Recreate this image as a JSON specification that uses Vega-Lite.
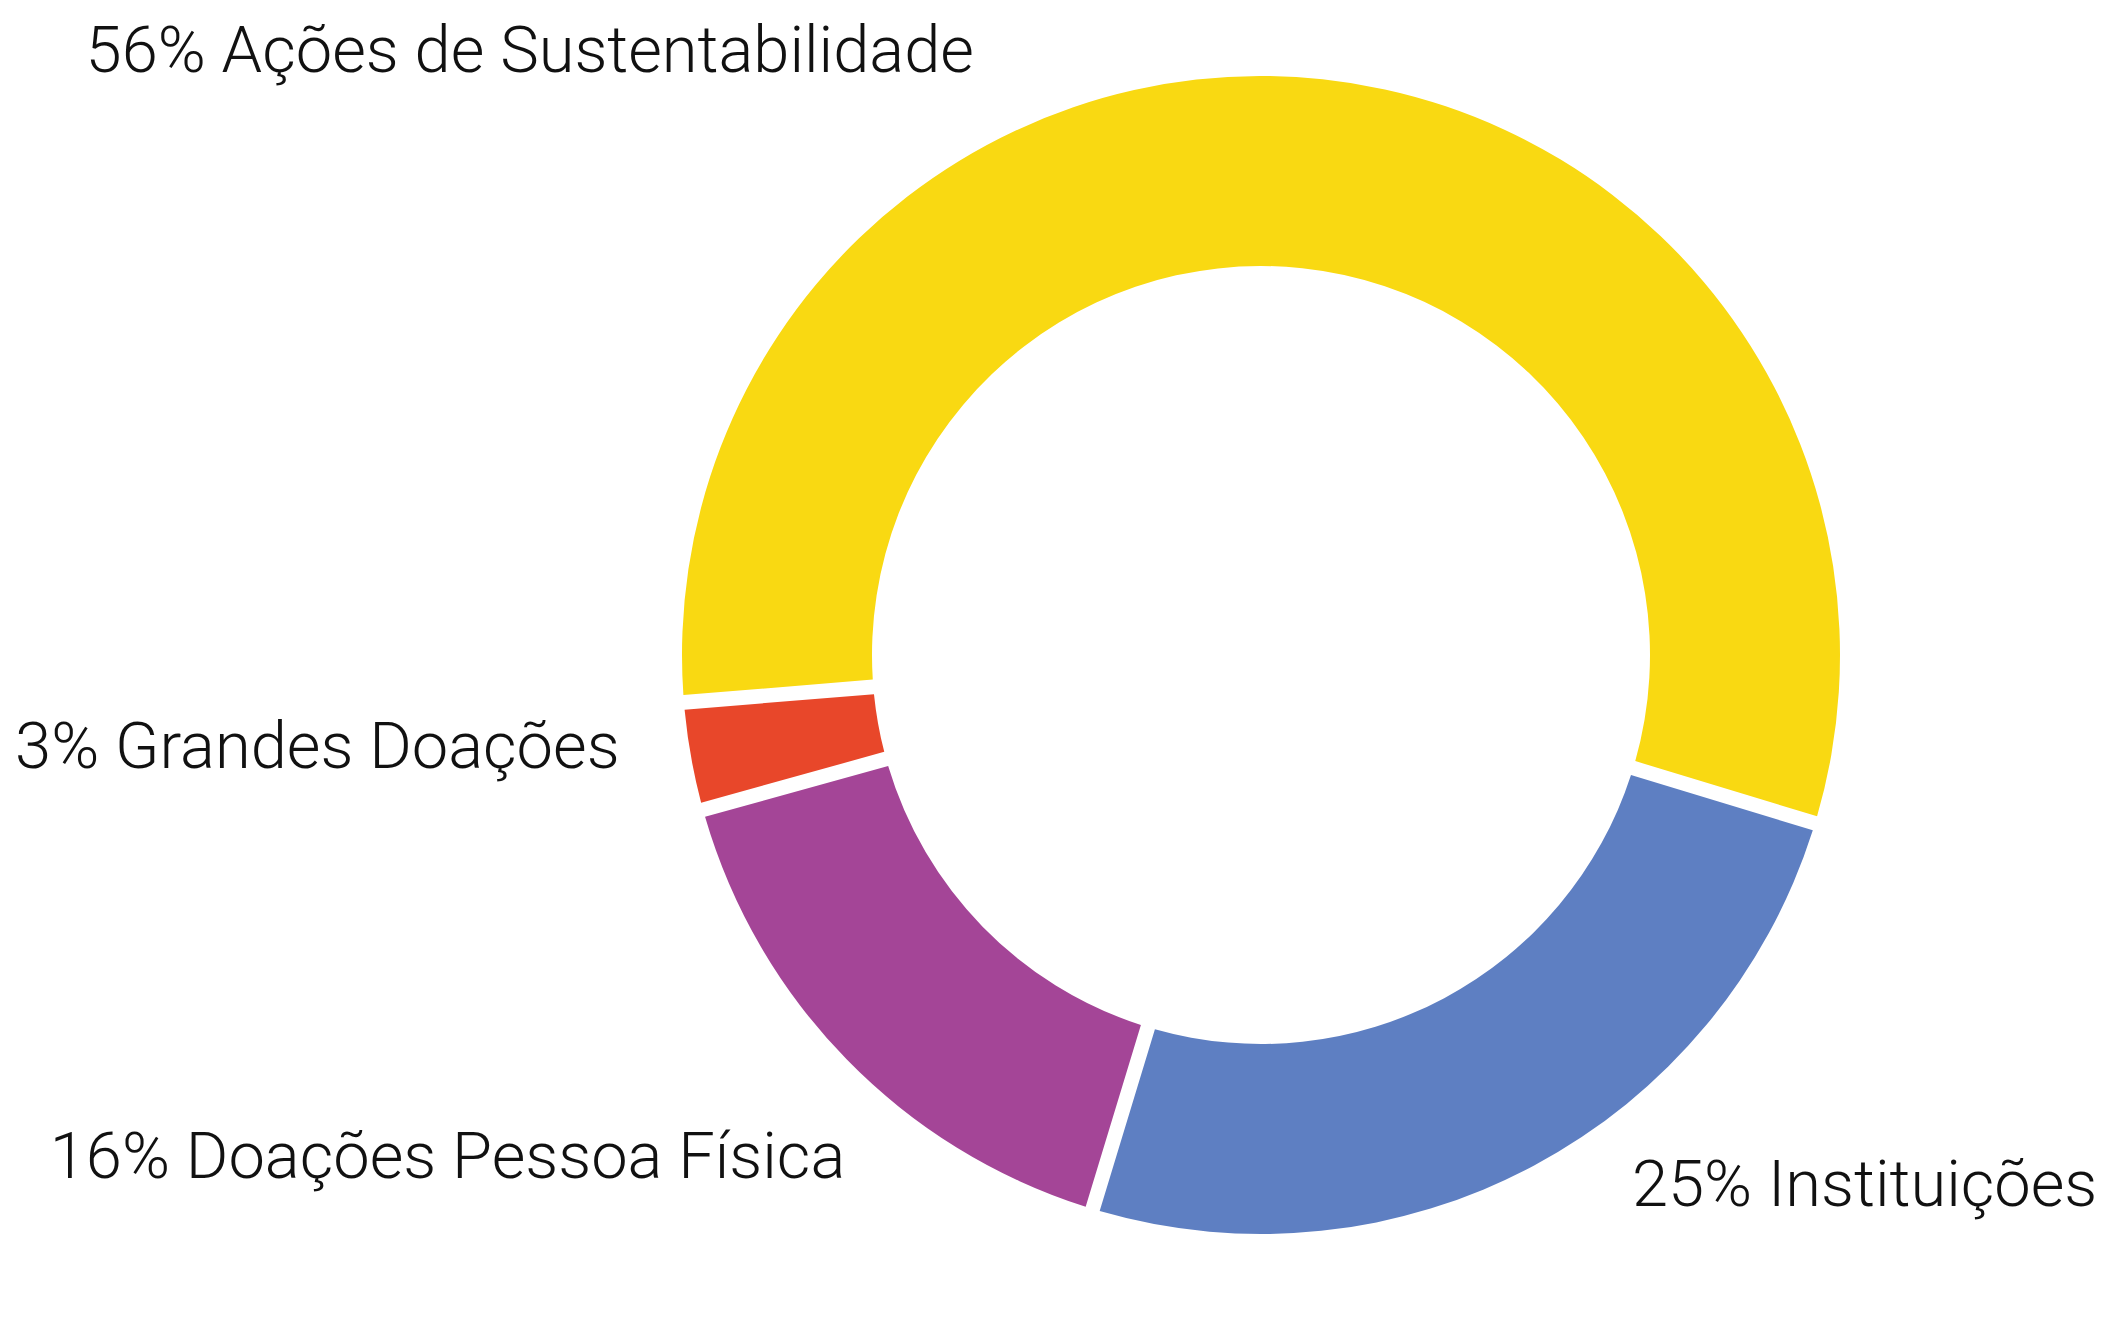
{
  "$schema": "https://vega.github.io/schema/vega-lite/v6.json",
  "autosize": {"type": "none"},
  "width": 1698,
  "height": 1310,
  "padding": {"left": 412, "top": 0, "right": 0, "bottom": 10},
  "background": "white",
  "config": {"view": {"stroke": null}},
  "data": {
    "values": [
      {"categoria": "Ações de Sustentabilidade", "percentual": 56, "rotulo": "56% Ações de Sustentabilidade"},
      {"categoria": "Instituições", "percentual": 25, "rotulo": "25% Instituições"},
      {"categoria": "Doações Pessoa Física", "percentual": 16, "rotulo": "16% Doações Pessoa Física"},
      {"categoria": "Grandes Doações", "percentual": 3, "rotulo": "3% Grandes Doações"}
    ]
  },
  "encoding": {
    "theta": {"field": "percentual", "type": "quantitative", "stack": true, "scale": {"range": [4.6304, 10.9136]}},
    "order": {"field": "percentual", "sort": "descending"}
  },
  "layer": [
    {
      "mark": {"type": "arc", "outerRadius": 579, "innerRadius": 389, "padAngle": 0.021},
      "encoding": {
        "color": {
          "field": "categoria",
          "type": "nominal",
          "scale": {
            "domain": ["Ações de Sustentabilidade", "Instituições", "Doações Pessoa Física", "Grandes Doações"],
            "range": ["#F9D912", "#5E7FC2", "#A44597", "#E8472A"]
          },
          "legend": null
        }
      }
    },
    {
      "mark": {"type": "text", "radius": 620, "align": "right", "baseline": "alphabetic", "dx": -353, "dy": 33, "font": "Roboto", "fontWeight": 300, "fontSize": 65, "color": "#111111"},
      "encoding": {"text": {"condition": {"test": "datum.percentual == 56", "field": "rotulo"}, "value": ""}}
    },
    {
      "mark": {"type": "text", "radius": 620, "align": "left", "baseline": "alphabetic", "dx": 79, "dy": 4, "font": "Roboto", "fontWeight": 300, "fontSize": 65, "color": "#111111"},
      "encoding": {"text": {"condition": {"test": "datum.percentual == 25", "field": "rotulo"}, "value": ""}}
    },
    {
      "mark": {"type": "text", "radius": 620, "align": "right", "baseline": "alphabetic", "dx": 28, "dy": 90, "font": "Roboto", "fontWeight": 300, "fontSize": 65, "color": "#111111"},
      "encoding": {"text": {"condition": {"test": "datum.percentual == 16", "field": "rotulo"}, "value": ""}}
    },
    {
      "mark": {"type": "text", "radius": 620, "align": "right", "baseline": "alphabetic", "dx": -31, "dy": 4, "font": "Roboto", "fontWeight": 300, "fontSize": 65, "color": "#111111"},
      "encoding": {"text": {"condition": {"test": "datum.percentual == 3", "field": "rotulo"}, "value": ""}}
    }
  ]
}
